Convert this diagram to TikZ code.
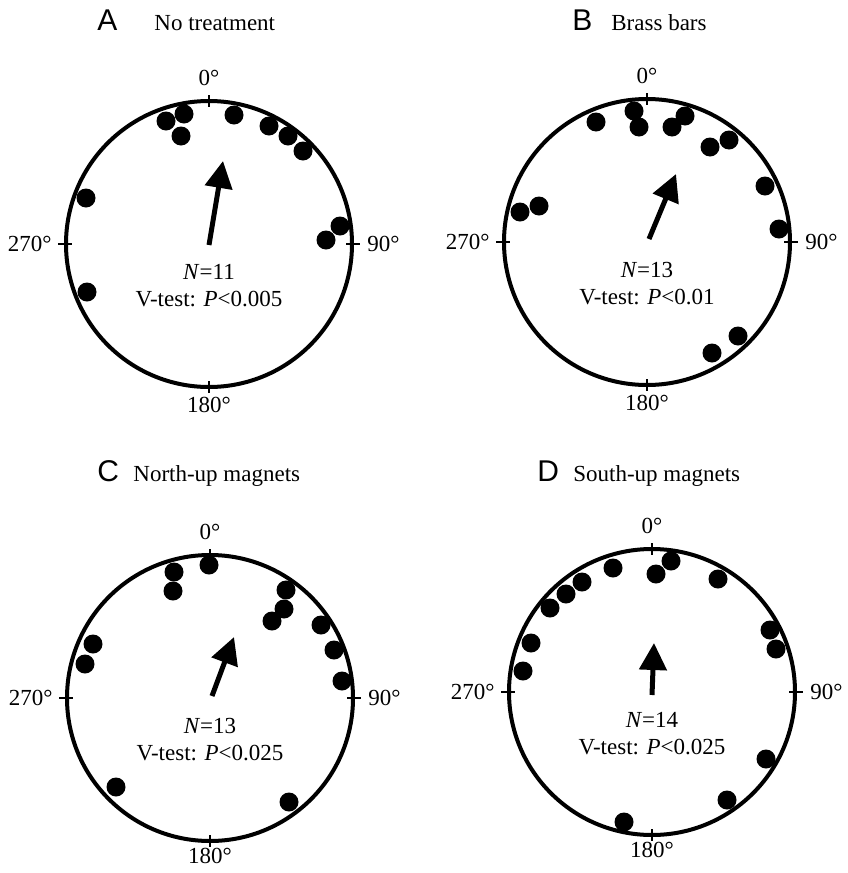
\documentclass[tikz,border=0pt]{standalone}
\usepackage{fontspec}
\setmainfont{Liberation Serif}
\newfontfamily\panelfont{Liberation Sans}
\usetikzlibrary{arrows.meta,positioning,calc}

\tikzset{
  rim/.style={line width=2pt},
  rimtick/.style={line width=1pt},
  dot/.style={circle, fill=black, inner sep=0pt, minimum size=9.5pt},
  mean/.style={line width=2.5pt, -{Triangle[width=13.5pt,length=13.5pt]}},
  deg/.style={inner sep=0pt, font=\fontsize{11.5}{13.3}\selectfont},
  stat/.style={align=center, inner sep=0pt, anchor=north, font=\fontsize{11.5}{13.3}\selectfont},
  title/.style={anchor=base west, inner sep=0pt, font=\fontsize{11.5}{13.3}\selectfont},
  letter/.style={anchor=base west, inner sep=0pt, font=\panelfont\fontsize{15}{17}\selectfont},
}

\begin{document}
\begin{tikzpicture}[x=0.5pt,y=-0.5pt]
    \useasboundingbox (0,0) rectangle (847,873);

    % circles, ticks, degree labels and statistics
    \foreach \p/\cx/\cy/\n/\pv/\sb in {A/209/244/11/0.005/153, B/647/242/13/0.01/153, C/210/698/13/0.025/150, D/652/692/14/0.025/150} {
        \coordinate (\p) at (\cx,\cy);
        \draw[rim] (\p) circle[radius=143];
        \draw[rimtick] ($(\p)+(0,-149)$) -- ($(\p)+(0,-137)$);
        \draw[rimtick] ($(\p)+(0,137)$) -- ($(\p)+(0,149)$);
        \draw[rimtick] ($(\p)+(-151,0)$) -- ($(\p)+(-137,0)$);
        \draw[rimtick] ($(\p)+(137,0)$) -- ($(\p)+(151,0)$);
        \node[deg, anchor=south] (\p-n) at ($(\p)+(0,-158)$) {0°};
        \node[deg, anchor=north] (\p-s) at ($(\p)+(0,\sb)$) {180°};
        \node[deg, anchor=east] (\p-w) at ($(\p)+(-157,0)$) {270°};
        \node[deg, anchor=west] (\p-e) at ($(\p)+(158,0)$) {90°};
        \node[stat] (\p-stat) at ($(\p)+(0,20)$) {\textit{N}=\n\\V-test: \textit{P}<\pv};
    }

    % panel titles
    \node[letter] (A-lab) at (97,30) {A};
    \node[title] (A-title) at (154,30) {No treatment};
    \node[letter] (B-lab) at (572,30) {B};
    \node[title] (B-title) at (611,30) {Brass bars};
    \node[letter] (C-lab) at (97,481) {C};
    \node[title] (C-title) at (133,481) {North-up magnets};
    \node[letter] (D-lab) at (537,481) {D};
    \node[title] (D-title) at (573,481) {South-up magnets};

    % headings of individual animals
    \foreach \x/\y [count=\i] in {166/121, 184/114, 181/136, 234/115, 269/126, 288/136, 303/151, 86/198, 340/226, 326/240, 87/292}
        \node[dot] (A\i) at (\x,\y) {};
    \foreach \x/\y [count=\i] in {596/122, 634/111, 639/127, 685/116, 672/127, 729/140, 710/147, 765/186, 779/229, 539/206, 520/212, 738/336, 712/353}
        \node[dot] (B\i) at (\x,\y) {};
    \foreach \x/\y [count=\i] in {174/572, 173/591, 209/565, 286/590, 284/609, 272/621, 321/625, 334/650, 342/681, 93/644, 85/664, 116/787, 289/802}
        \node[dot] (C\i) at (\x,\y) {};
    \foreach \x/\y [count=\i] in {613/568, 671/561, 656/574, 718/579, 582/582, 566/594, 550/608, 531/643, 523/671, 770/630, 776/649, 766/759, 727/800, 624/822}
        \node[dot] (D\i) at (\x,\y) {};

    % mean vectors
    \coordinate (A-tail) at (209,245); \coordinate (A-tip) at (223,161);
    \coordinate (B-tail) at (649,239); \coordinate (B-tip) at (676,174);
    \coordinate (C-tail) at (212,696); \coordinate (C-tip) at (234,637);
    \coordinate (D-tail) at (652,695); \coordinate (D-tip) at (654,643);
    \draw[mean] (A-tail) -- (A-tip);
    \draw[mean] (B-tail) -- (B-tip);
    \draw[mean] (C-tail) -- (C-tip);
    \draw[mean] (D-tail) -- (D-tip);
\end{tikzpicture}
\end{document}
